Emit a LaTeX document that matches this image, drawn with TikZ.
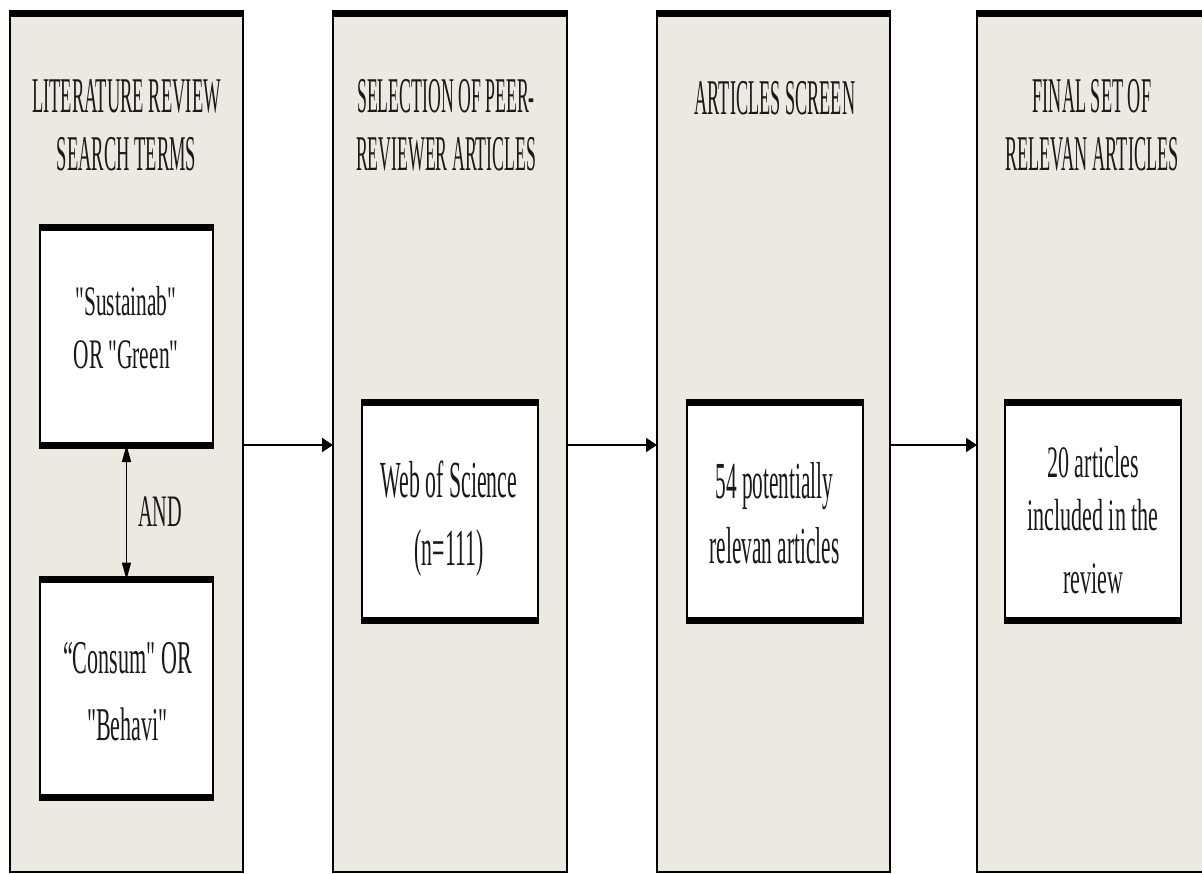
\documentclass[tikz,border=0pt]{standalone}
\usepackage{graphicx}
\usepackage{fontspec}
\setmainfont{Liberation Serif}
\usetikzlibrary{arrows.meta}
\definecolor{colbg}{RGB}{236,233,225}
\newcommand{\sqtext}[4]{{\fontsize{#2}{#3}\selectfont\scalebox{#1}[1]{\begin{tabular}{@{}c@{}}#4\end{tabular}}}}
\newcommand{\dq}{\textquotedbl}
\begin{document}
\begin{tikzpicture}[x=1pt,y=-1pt,
  column/.style={draw=black, line width=2pt, fill=colbg, anchor=north west, outer sep=0pt, inner sep=0pt, minimum width=233pt, minimum height=858.5pt},
  box/.style={draw=black, line width=2pt, fill=white, anchor=north west, outer sep=0pt, inner sep=0pt, minimum height=218pt},
  bar/.style={line width=7pt, shorten <=-1pt, shorten >=-1pt},
  txt/.style={inner sep=0pt, outer sep=0pt, anchor=center, text=black!90},
  arr/.style={line width=2pt, -{Triangle[length=11pt,width=14pt]}},
  darr/.style={line width=1.5pt, {Triangle[length=17pt,width=9pt]}-{Triangle[length=17pt,width=9pt]}}
]
\useasboundingbox (0,0) rectangle (1202,873);
\clip (0,0) rectangle (1202,873);
% columns
\node[column] (c1) at (10,13.5) {};
\node[column, minimum width=234pt] (c2) at (333,13.5) {};
\node[column] (c3) at (657,13.5) {};
\node[column] (c4) at (977,13.5) {};
\foreach \n in {c1,c2,c3,c4} {\draw[bar] (\n.north west) -- (\n.north east);}
% boxes
\node[box, minimum width=173pt] (b1) at (40,227) {};
\node[box, minimum width=173pt, minimum height=217.5pt] (b2) at (40,579.5) {};
\node[box, minimum width=176pt] (b3) at (362,402) {};
\node[box, minimum width=176pt] (b4) at (687,402) {};
\node[box, minimum width=176pt] (b5) at (1005,402) {};
\foreach \n in {b1,b2,b3,b4,b5} {
  \draw[bar] (\n.north west) -- (\n.north east);
  \draw[bar] (\n.south west) -- (\n.south east);
}
% headings
\node[txt] (h1) at (126.5,129.4) {\sqtext{0.37}{50}{58}{LITERATURE REVIEW\\SEARCH TERMS}};
\node[txt] (h2) at (446,129.4) {\sqtext{0.355}{50}{58}{SELECTION OF PEER-\\REVIEWER ARTICLES}};
\node[txt] (h3) at (775,102.4) {\sqtext{0.365}{50}{58}{ARTICLES SCREEN}};
\node[txt] (h4) at (1092,129.4) {\sqtext{0.365}{50}{58}{FINAL SET OF\\RELEVAN ARTICLES}};
% box texts
\node[txt] (t1) at (126,330.9) {\sqtext{0.51}{42}{53}{\dq Sustainab\dq\\OR \dq Green\dq}};
\node[txt] (t2) at (127.5,693.1) {\sqtext{0.47}{47}{67}{“Consum\dq{} OR\\\dq Behavi\dq}};
\node[txt] (t3) at (449,517.4) {\sqtext{0.42}{52}{68}{Web of Science\\(n=111)}};
\node[txt] (t4) at (774.5,517.5) {\sqtext{0.41}{52}{65}{54 potentially\\relevan articles}};
\node[txt] (t5) at (1093,524.4) {\sqtext{0.49}{45}{53}{20 articles\\included in the\\[10pt]review}};
% connectors
\draw[darr] (b1.south) -- (b2.north);
\node[txt] (and) at (160,516.4) {\sqtext{0.45}{45}{52.8}{AND}};
\draw[arr] (c1.east |- b1.south) -- (c2.west |- b1.south);
\draw[arr] (c2.east |- b1.south) -- (c3.west |- b1.south);
\draw[arr] (c3.east |- b1.south) -- (c4.west |- b1.south);
\end{tikzpicture}
\end{document}
